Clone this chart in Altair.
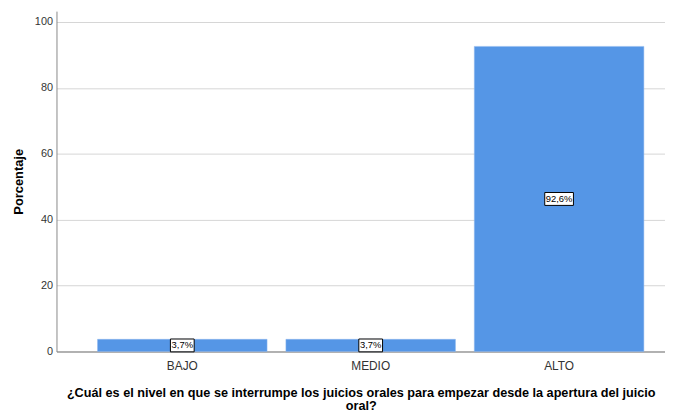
import altair as alt
import pandas as pd

categories = ["BAJO", "MEDIO", "ALTO"]
values = [3.7, 3.7, 92.6]
labels = ["3,7%", "3,7%", "92,6%"]

df = pd.DataFrame({"cat": categories, "val": values, "lab": labels})
df["mid"] = df["val"] / 2

FONT = "Liberation Sans"

xscale = alt.Scale(domain=categories, paddingInner=0.1, paddingOuter=0.165, align=0.66)
yscale = alt.Scale(domain=[0, 103.3], nice=False)

x = alt.X("cat:N", scale=xscale, sort=categories,
          axis=alt.Axis(title=["¿Cuál es el nivel en que se interrumpe los juicios orales para empezar desde la apertura del juicio", "oral?"],
                        labelAngle=0, ticks=False, labelPadding=9, labelFontSize=12, labelColor="#333333",
                        titleFontSize=12.8, titleFontWeight="bold", titlePadding=15, titleColor="#000000",
                        domainColor="#777777", labelFont=FONT, titleFont=FONT, titleLineHeight=13.5))

bars = alt.Chart(df).mark_bar(color="#5596E6", stroke="#8FB8EE", strokeWidth=0.5).encode(
    x=x,
    y=alt.Y("val:Q", scale=yscale,
            axis=alt.Axis(title="Porcentaje", values=[0, 20, 40, 60, 80, 100], ticks=False, labelPadding=4,
                          grid=True, gridColor="#D6D6D6", gridWidth=1, domainColor="#888888",
                          labelFontSize=11, labelColor="#333333", titleFontSize=13, titleFontWeight="bold",
                          titlePadding=9, titleColor="#000000", labelFont=FONT, titleFont=FONT)),
)

small = df[df["cat"] != "ALTO"]
big = df[df["cat"] == "ALTO"]

box = alt.Chart(small).mark_point(shape="M-1,-0.54H1V0.54H-1Z", filled=True, fill="white", stroke="black",
                                  strokeWidth=1, opacity=1, size=576).encode(
    x=alt.X("cat:N", scale=xscale, sort=categories),
    y=alt.Y("mid:Q", scale=yscale),
)
box2 = alt.Chart(big).mark_point(shape="M-1,-0.45H1V0.45H-1Z", filled=True, fill="white",
                                 stroke="black", strokeWidth=1, opacity=1, size=841).encode(
    x=alt.X("cat:N", scale=xscale, sort=categories),
    y=alt.Y("mid:Q", scale=yscale),
)

text = alt.Chart(df).mark_text(fontSize=9.5, font=FONT, color="#000000").encode(
    x=alt.X("cat:N", scale=xscale, sort=categories),
    y=alt.Y("mid:Q", scale=yscale),
    text="lab:N",
)

chart = alt.layer(bars, box, box2, text).properties(
    width=615, height=344,
    autosize=alt.AutoSizeParams(type="none"),
    padding={"left": 49, "top": 1, "right": 0, "bottom": 64},
).configure_view(stroke=None)

chart.save("out.html", embed_options={"renderer": "svg", "actions": False})
